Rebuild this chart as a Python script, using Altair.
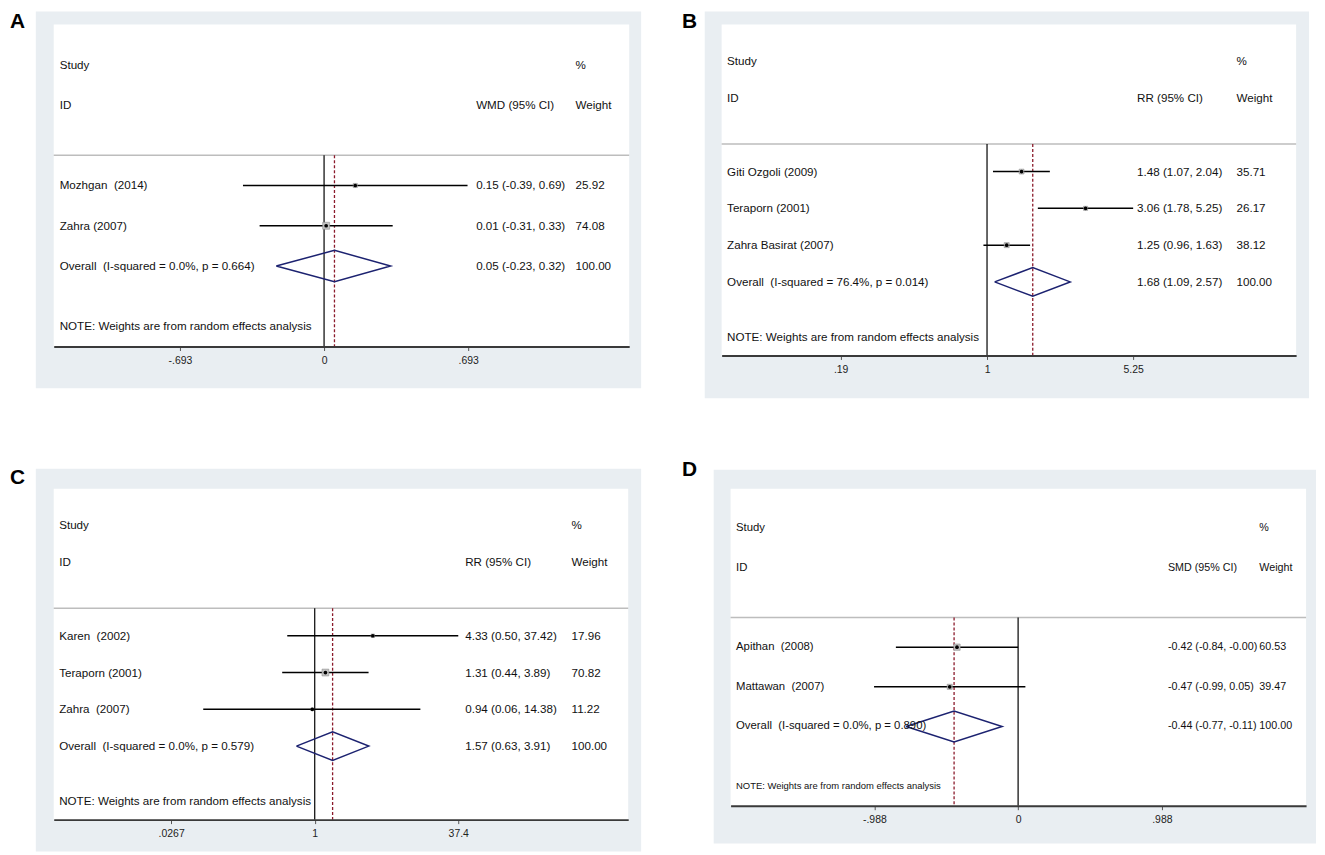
import altair as alt
import pandas as pd

# ---------------- data ----------------
note_text = "NOTE: Weights are from random effects analysis"

# Panel A
a_measure = "WMD (95% CI)"
a_studies = ["Mozhgan\u00a0 (2014)", "Zahra (2007)"]
a_est = [0.15, 0.01]
a_lo = [-0.39, -0.31]
a_hi = [0.69, 0.33]
a_weight = [25.92, 74.08]
a_overall = [0.05, -0.23, 0.32]
a_overall_label = "Overall\u00a0 (I-squared = 0.0%, p = 0.664)"
a_ticks = [-0.693, 0, 0.693]
a_tick_labels = ["-.693", "0", ".693"]

# Panel B
b_measure = "RR (95% CI)"
b_studies = ["Giti Ozgoli (2009)", "Teraporn (2001)", "Zahra Basirat (2007)"]
b_est = [1.48, 3.06, 1.25]
b_lo = [1.07, 1.78, 0.96]
b_hi = [2.04, 5.25, 1.63]
b_weight = [35.71, 26.17, 38.12]
b_overall = [1.68, 1.09, 2.57]
b_overall_label = "Overall\u00a0 (I-squared = 76.4%, p = 0.014)"
b_ticks = [0.19, 1, 5.25]
b_tick_labels = [".19", "1", "5.25"]

# Panel C
c_measure = "RR (95% CI)"
c_studies = ["Karen\u00a0 (2002)", "Teraporn (2001)", "Zahra\u00a0 (2007)"]
c_est = [4.33, 1.31, 0.94]
c_lo = [0.50, 0.44, 0.06]
c_hi = [37.42, 3.89, 14.38]
c_weight = [17.96, 70.82, 11.22]
c_overall = [1.57, 0.63, 3.91]
c_overall_label = "Overall\u00a0 (I-squared = 0.0%, p = 0.579)"
c_ticks = [0.0267, 1, 37.4]
c_tick_labels = [".0267", "1", "37.4"]

# Panel D
d_measure = "SMD (95% CI)"
d_studies = ["Apithan\u00a0 (2008)", "Mattawan\u00a0 (2007)"]
d_est = [-0.42, -0.47]
d_lo = [-0.84, -0.99]
d_hi = [-0.0, 0.05]
d_weight = [60.53, 39.47]
d_overall = [-0.44, -0.77, -0.11]
d_overall_label = "Overall\u00a0 (I-squared = 0.0%, p = 0.890)"
d_ticks = [-0.988, 0, 0.988]
d_tick_labels = ["-.988", "0", ".988"]

# ---------------- layout / style ----------------
FONT = "Liberation Sans"
GREY = "#E9EEF2"
NAVY = "#1c2270"
RED = "#8b1a2b"
TXT = "#111111"

# page coordinates: white plot region, grey panel, cell bounding box, letter
GEOM = {
    "A": dict(white=(53, 21, 632, 345), grey=(35, 8, 644, 387), cell=(8, 8, 644, 387),
              letter=(9, 8), scale="linear", domain=[-1.3002, 1.4675], null=0,
              cols=(6, 425, 525), fs=(11.7, 11.7, 11.7), box=0.66),
    "B": dict(white=(723, 21, 1301, 354), grey=(706, 8, 1314, 397), cell=(683, 8, 1314, 397),
              letter=(683, 8), scale="log", domain=[0.04921, 33.37], null=1,
              cols=(5.5, 418, 518), fs=(11.7, 11.7, 11.7), box=0.8),
    "C": dict(white=(53, 478, 631, 811), grey=(35, 458, 644, 843), cell=(8, 456, 644, 843),
              letter=(9, 456), scale="log", domain=[0.001379, 2726], null=1,
              cols=(5.5, 414, 521), fs=(11.7, 11.7, 11.7), box=1.55),
    "D": dict(white=(732, 486, 1311, 805), grey=(715, 467, 1321, 843), cell=(683, 456, 1321, 843),
              letter=(683, 456), scale="linear", domain=[-1.976, 1.979], null=0,
              cols=(5.5, 440, 532), fs=(11.4, 10.8, 9.5), box=0.3),
}


def f2(v):
    return f"{v:.2f}"


def panel(key, measure, studies, est, lo, hi, weight, overall, overall_label, ticks, tick_labels):
    g = GEOM[key]
    wl, wt, wr, wb = g["white"]
    W, H = wr - wl, wb - wt
    n = len(studies)
    r_over = 3 + n
    r_note = r_over + 1.5
    r_bot = r_over + 2
    r_sep = 2.25

    yscale = alt.Scale(domain=[-1, r_bot], reverse=True, nice=False, zero=False)
    xscale = alt.Scale(type=g["scale"], domain=g["domain"], nice=False, zero=False)
    expr = "[" + ",".join(f"'{t}'" for t in tick_labels) + "][indexof([" + \
        ",".join(repr(float(t)) for t in ticks) + "], datum.value)]"
    xax = alt.Axis(values=ticks, labelExpr=expr, title=None, grid=False, zindex=2,
                   domainColor="#3a3a3a", domainWidth=2, tickColor="#555555",
                   tickWidth=1, tickSize=4, labelPadding=5, labelFontSize=10.5,
                   labelFont=FONT, labelColor="#222222", labelFlush=False,
                   labelOverlap=False)

    def Y(f="r"):
        return alt.Y(f"{f}:Q", scale=yscale, axis=None, title=None)

    def X(f):
        return alt.X(f"{f}:Q", scale=xscale, axis=xax, title=None)

    one = alt.Chart(pd.DataFrame({"k": [0]}))
    cl, ct, cr, cb = g["cell"]
    gl, gt, gr, gb = g["grey"]
    bbox = one.mark_rect(fill="white", opacity=0).encode(
        x=alt.value(cl - wl), x2=alt.value(cr - wl), y=alt.value(ct - wt), y2=alt.value(cb - wt))
    grey = one.mark_rect(fill=GREY).encode(
        x=alt.value(gl - wl), x2=alt.value(gr - wl), y=alt.value(gt - wt), y2=alt.value(gb - wt))
    white = one.mark_rect(fill="white").encode(
        x=alt.value(0), x2=alt.value(W), y=alt.value(0), y2=alt.value(H))

    sep = alt.Chart(pd.DataFrame({"r": [r_sep]})).mark_rule(
        color="#bdbdbd", strokeWidth=1.5).encode(x=alt.value(0), x2=alt.value(W), y=Y())

    vline = pd.DataFrame({"x": [g["null"]], "r": [r_sep], "r2": [r_bot]})
    null_line = alt.Chart(vline).mark_rule(color="black", strokeWidth=1.2).encode(
        x=X("x"), y=Y(), y2="r2:Q")
    dline = pd.DataFrame({"x": [overall[0]], "r": [r_sep], "r2": [r_bot]})
    dashed = alt.Chart(dline).mark_rule(color=RED, strokeWidth=1.3, strokeDash=[3, 2]).encode(
        x=X("x"), y=Y(), y2="r2:Q")

    sdf = pd.DataFrame({"r": [3 + i for i in range(n)], "lo": lo, "hi": hi,
                        "est": est, "w": weight})
    ci = alt.Chart(sdf).mark_rule(color="black", strokeWidth=1.5).encode(
        x=X("lo"), x2="hi:Q", y=Y())
    boxes = alt.Chart(sdf).mark_square(fill="#c4c4c4", stroke="#8c8c8c", strokeWidth=0.6,
                                       opacity=1, filled=True).encode(
        x=X("est"), y=Y(),
        size=alt.Size("w:Q", scale=alt.Scale(domain=[0, 100], range=[0, 100 * g["box"]]),
                      legend=None))
    pts = alt.Chart(sdf).mark_point(filled=True, shape="circle", size=14, color="black",
                                    opacity=1).encode(x=X("est"), y=Y())

    h = 0.39
    dia = pd.DataFrame({"o": [0, 1, 2, 3, 4],
                        "x": [overall[1], overall[0], overall[2], overall[0], overall[1]],
                        "r": [r_over, r_over - h, r_over, r_over + h, r_over]})
    diamond = alt.Chart(dia).mark_line(color=NAVY, strokeWidth=1.5, strokeJoin="miter").encode(
        x=X("x"), y=Y(), order="o:Q")

    fs0, fs1, fs2 = g["fs"]
    c0, c1, c2 = g["cols"]
    left = pd.DataFrame({"t": ["Study", "ID"] + list(studies) + [overall_label],
                         "r": [0, 1] + [3 + i for i in range(n)] + [r_over]})
    mid = pd.DataFrame({"t": [measure] + [f"{f2(e)} ({f2(a)}, {f2(b)})" for e, a, b in zip(est, lo, hi)]
                        + [f"{f2(overall[0])} ({f2(overall[1])}, {f2(overall[2])})"],
                        "r": [1] + [3 + i for i in range(n)] + [r_over]})
    right = pd.DataFrame({"t": ["%", "Weight"] + [f2(w) for w in weight] + ["100.00"],
                          "r": [0, 1] + [3 + i for i in range(n)] + [r_over]})
    note = pd.DataFrame({"t": [note_text], "r": [r_note]})

    def txt(df, x, fs):
        return alt.Chart(df).mark_text(align="left", baseline="middle", font=FONT,
                                       fontSize=fs, color=TXT).encode(
            x=alt.value(x), y=Y(), text="t:N")

    lx, ly = g["letter"]
    letter = one.mark_text(text=key, align="left", baseline="top", font=FONT,
                           fontSize=21, fontWeight="bold", color="black").encode(
        x=alt.value(lx - wl), y=alt.value(ly - wt))

    return alt.layer(bbox, grey, white, sep, null_line, dashed, ci, boxes, pts, diamond,
                     txt(left, c0, fs0), txt(mid, c1, fs1), txt(right, c2, fs1),
                     txt(note, c0, fs2), letter).properties(width=W, height=H)


pA = panel("A", a_measure, a_studies, a_est, a_lo, a_hi, a_weight, a_overall, a_overall_label,
           a_ticks, a_tick_labels)
pB = panel("B", b_measure, b_studies, b_est, b_lo, b_hi, b_weight, b_overall, b_overall_label,
           b_ticks, b_tick_labels)
pC = panel("C", c_measure, c_studies, c_est, c_lo, c_hi, c_weight, c_overall, c_overall_label,
           c_ticks, c_tick_labels)
pD = panel("D", d_measure, d_studies, d_est, d_lo, d_hi, d_weight, d_overall, d_overall_label,
           d_ticks, d_tick_labels)

row1 = alt.hconcat(pA, pB, spacing=683 - 644)
row2 = alt.hconcat(pC, pD, spacing=683 - 644)
chart = alt.vconcat(row1, row2, spacing=456 - 397).properties(
    padding=0, background="white").configure_view(stroke="transparent")

chart.save("out.html", embed_options={"renderer": "svg", "actions": False})
